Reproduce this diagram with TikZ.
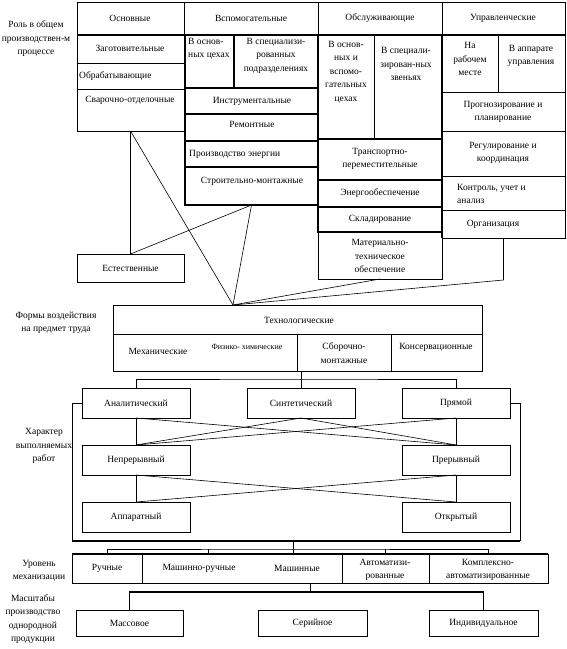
\documentclass[tikz,border=0pt]{standalone}
\usepackage{fontspec}
\setmainfont{Liberation Serif}
\tikzset{
 cell/.style={draw, line width=0.6pt, inner sep=0pt, outer sep=0pt, anchor=north west},
 tcell/.style={cell, line width=1.5pt},
 txt/.style={font=\fontsize{9.5}{13.5}\selectfont, align=center, inner sep=0pt},
 stxt/.style={font=\fontsize{8}{11}\selectfont, align=center, inner sep=0pt},
 ln/.style={line width=0.6pt},
 tk/.style={line width=1.6pt},
}
\newcommand{\bx}[6][cell]{\node[#1, minimum width={#5pt-#3pt}, minimum height={#6pt-#4pt}] (#2) at (#3,#4) {};}
\begin{document}
\begin{tikzpicture}[x=1pt,y=-1pt]
\useasboundingbox (0,0) rectangle (566,649);
% ---------- top table ----------
\bx{h1}{77}{2}{184}{35}
\bx{h2}{184}{2}{318}{35}
\bx{h3}{318}{2}{442}{35}
\bx{h4}{442}{2}{565}{35}
\bx{c1a}{77}{35}{184}{63}
\bx{c1b}{77}{63}{184}{89}
\bx{c1c}{77}{89}{184}{131}
\bx{c3a}{318}{35}{374}{139}
\bx{c3b}{374}{35}{442}{139}
\bx{c3f}{318}{232}{442}{279}
\bx{c4a}{442}{35}{498}{92}
\bx{c4b}{498}{35}{565}{92}
\bx{c4c}{442}{92}{565}{131}
\bx{c4d}{442}{131}{565}{176}
\bx{c4e}{442}{176}{565}{210}
\bx{c4f}{442}{210}{565}{238}
\bx[tcell]{c2a}{185}{35}{234}{88}
\bx[tcell]{c2b}{234}{35}{318}{88}
\bx[tcell]{c2c}{185}{88}{318}{114}
\bx[tcell]{c2d}{185}{114}{318}{141}
\bx[tcell]{c2e}{185}{141}{318}{167}
\bx[tcell]{c2f}{185}{167}{318}{205}
\bx[tcell]{c3c}{318}{139}{442}{180}
\bx[tcell]{c3d}{318}{180}{442}{207}
\bx[tcell]{c3e}{318}{207}{442}{232}
\draw[ln] (c2a.north east) -- (c2a.south east);
\draw[ln] (c3a.north east) -- (c3a.south east);
\draw[tk] (h1.south west) -- (h4.south east);
\draw[tk] (c4a.north west) -- (c4f.south west);
\draw[tk] (c3a.north west) -- (c3a.south west);

\node[txt] (tRole) at (36,39) {Роль в общем\\производствен-м\\процессе};
\node[txt] (tOsn) at (130,18) {Основные};
\node[txt] (tVsp) at (251,18) {Вспомогательные};
\node[txt] (tObs) at (380,18) {Обслуживающие};
\node[txt] (tUpr) at (503,18) {Управленческие};
\node[txt] (tZag) at (130,48) {Заготовительные};
\node[txt, anchor=west] (tObr) at (79,76) {Обрабатывающие};
\node[txt] (tSvar) at (130,100) {Сварочно-отделочные};
\node[txt, align=left, anchor=north west] (tVosn) at (188,38) {В основ-\\ных цехах};
\node[txt, anchor=north] (tVspec) at (276,38) {В специализи-\\рованных\\подразделениях};
\node[txt] (tInstr) at (252,101) {Инструментальные};
\node[txt] (tRem) at (252,124) {Ремонтные};
\node[txt, anchor=west] (tProizv) at (189,154) {Производство энергии};
\node[txt] (tStroi) at (252,181) {Строительно-монтажные};
\node[txt] (tVosn3) at (346,72) {В основ-\\ных и\\вспомо-\\гательных\\цехах};
\node[txt] (tVspec3) at (406,64) {В специали-\\зирован-ных\\звеньях};
\node[txt] (tTrans) at (380,159) {Транспортно-\\переместительные};
\node[txt] (tEnerg) at (380,193) {Энергообеспечение};
\node[txt] (tSklad) at (380,219) {Складирование};
\node[txt] (tMat) at (380,256) {Материально-\\техническое\\обеспечение};
\node[txt] (tNaRab) at (470,59) {На\\рабочем\\месте};
\node[txt] (tVapp) at (531,56) {В аппарате\\управления};
\node[txt] (tProg) at (503,112) {Прогнозирование и\\планирование};
\node[txt] (tReg) at (503,153) {Регулирование и\\координация};
\node[txt, align=left, anchor=west] (tKontr) at (457,194) {Контроль, учет и\\ анализ};
\node[txt] (tOrg) at (493,224) {Организация};

% ---------- Естественные / Технологические ----------
\bx{est}{77}{254}{184}{282}
\node[txt] (tEst) at (est.center) {Естественные};
\bx{techT}{113}{305}{482}{334}
\bx{tb1}{113}{334}{297}{371}
\bx{tb2}{297}{334}{391}{371}
\bx{tb3}{391}{334}{482}{371}
\node[txt] (tForm) at (56,323) {Формы воздействия\\на предмет труда};
\node[txt] (tTech) at (299,320) {Технологические};
\node[txt] (tMeh) at (158,351) {Механические};
\node[stxt] (tFiz) at (247,347) {Физико- химические};
\node[txt] (tSbor) at (344,353) {Сборочно-\\монтажные};
\node[txt] (tKons) at (436,347) {Консервационные};

\coordinate (tj) at (233,305);
\coordinate (orgb) at (503.5,280);
\draw[ln] (c1c.south) -- (est.north);
\draw[ln] (c1c.south) -- (tj);
\draw[ln] (est.north) -- (c2f.south);
\draw[ln] (c2f.south) -- (tj);
\draw[ln] (c3f.south) -- (tj);
\draw[ln] (c4f.south) -- (orgb) -- (tj);

% ---------- Характер выполняемых работ ----------
\bx{anal}{82}{388}{190}{418}
\bx{sint}{247}{388}{355}{418}
\bx{pryam}{402}{388}{510}{418}
\bx{nepr}{82}{445}{190}{475}
\bx{prer}{402}{445}{510}{475}
\bx{appar}{82}{502}{190}{532}
\bx{otkr}{402}{502}{510}{532}
\node[txt] (tAnal) at (anal.center) {Аналитический};
\node[txt] (tSint) at (sint.center) {Синтетический};
\node[txt] (tPryam) at (pryam.center) {Прямой};
\node[txt] (tNepr) at (nepr.center) {Непрерывный};
\node[txt] (tPrer) at (prer.center) {Прерывный};
\node[txt] (tAppar) at (appar.center) {Аппаратный};
\node[txt] (tOtkr) at (otkr.center) {Открытый};
\node[txt] (tHar) at (44,446) {Характер\\выполняемых\\работ};

\coordinate (tr1) at (301,379);
\draw[ln] (anal.north) |- (tr1) -| (pryam.north);
\draw[ln] (sint.north) -- (sint.north |- tb1.south);
\draw[ln] (anal.south) -- (nepr.north);
\draw[ln] (nepr.south) -- (appar.north);
\draw[ln] (pryam.south) -- (prer.north);
\draw[ln] (prer.south) -- (otkr.north);
\draw[ln] (anal.south) -- (prer.north);
\draw[ln] (pryam.south) -- (nepr.north);
\draw[ln] (sint.south) -- (nepr.north);
\draw[ln] (sint.south) -- (prer.north);
\draw[ln] (nepr.south) -- (otkr.north);
\draw[ln] (prer.south) -- (appar.north);
\coordinate (bl) at (72,541);
\coordinate (br) at (520,541);
\draw[ln] (anal.west) -| (bl);
\draw[ln] (pryam.east) -| (br);
\draw[tk] (bl) -- (br);

% ---------- Уровень механизации ----------
\bx{u1}{72}{554}{142}{583}
\bx{u2}{142}{554}{342}{583}
\bx{u3}{342}{554}{429}{583}
\bx{u4}{429}{554}{548}{583}
\draw[tk] (u1.north west) -- (u4.north east);
\node[txt] (tUr) at (39,571) {Уровень\\механизации};
\node[txt] (tRuch) at (107,568) {Ручные};
\node[txt] (tMR) at (199,568) {Машинно-ручные};
\node[txt] (tMash) at (297,568) {Машинные};
\node[txt] (tAvt) at (385,570) {Автоматизи-\\рованные};
\node[txt] (tKompl) at (488,570) {Комплексно-\\автоматизированные};
\coordinate (lvl) at (293,549);
\coordinate (d2) at (208,554);
\coordinate (d3) at (293,554);
\draw[ln] (u1.north) |- (lvl) -| (u4.north);
\draw[ln] (bl -| lvl) -- (lvl);
\draw[ln] (d2) -- (d2 |- lvl);
\draw[ln] (d3) -- (lvl);
\draw[ln] (u3.north) -- (u3.north |- lvl);

% ---------- Масштабы ----------
\bx{mass}{76}{610}{183}{636}
\bx{ser}{258}{610}{367}{636}
\bx{ind}{429}{610}{538}{636}
\node[txt] (tMass) at (mass.center) {Массовое};
\node[txt] (tSer) at (ser.center) {Серийное};
\node[txt] (tInd) at (ind.center) {Индивидуальное};
\node[txt] (tMasht) at (33,619) {Масштабы\\производство\\однородной\\продукции};
\coordinate (ms) at (310,592);
\draw[ln] (u2.south -| ms) -- (ms);
\draw[tk] (mass.north) |- (ms) -| (ind.north);
\end{tikzpicture}
\end{document}
